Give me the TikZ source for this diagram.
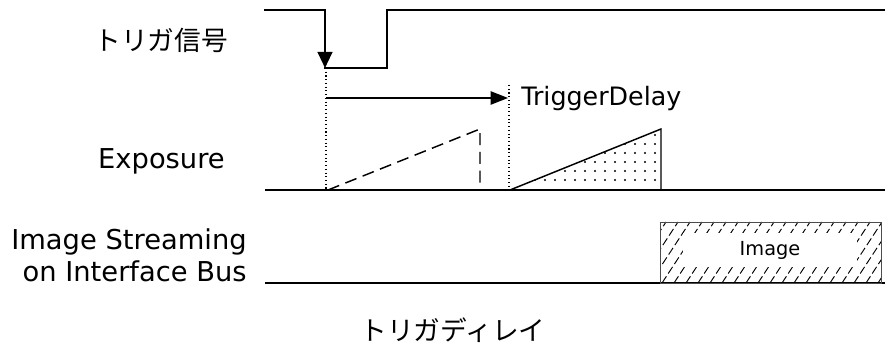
\documentclass[tikz,border=0pt]{standalone}
\usepackage{fontspec}
\setmainfont{DejaVu Sans}
\newfontfamily\jpfont{Noto Sans CJK JP}
\usetikzlibrary{arrows.meta}

\begin{document}
\begin{tikzpicture}[x=0.75pt, y=-0.75pt,
  lbl/.style={font=\fontsize{20.5}{24}\selectfont, inner sep=0pt},
  jlbl/.style={font=\jpfont\fontsize{20}{24}\selectfont, inner sep=0pt},
  sig/.style={line width=1.6pt, line cap=rect},
  base/.style={line width=2.2pt},
  guide/.style={dotted, line width=0.8pt},
  ramp/.style={line width=1.1pt},
  flow/.style={-{Triangle[length=13pt,width=10pt]}, line width=1pt},
]
\useasboundingbox (0,0) rectangle (885,352);

% Signal labels
\node[jlbl, anchor=east] (trig) at (228,40) {トリガ信号};
\node[lbl, anchor=base east] (expo) at (225,169) {Exposure};
\node[lbl, anchor=east, align=right] (bus) at (247,255)
  {Image Streaming\\on Interface Bus};

% Trigger signal
\coordinate (t0) at (265,10);
\coordinate (t1) at (325,68);
\coordinate (t2) at (387,10);
\coordinate (t3) at (885,10);
\draw[sig, -{Triangle[length=12pt,width=11pt]}] (t0) -| (t1);
\draw[sig] (t1) -| (t2) -- (t3);

% Exposure and bus lines
\coordinate (e0) at (265,190);
\coordinate (e1) at (885,190);
\coordinate (b0) at (265,283);
\coordinate (b1) at (885,283);
\draw[base] (e0) -- (e1);
\draw[base] (b0) -- (b1);

% Trigger delay
\coordinate (d0) at (326,68);
\coordinate (d1) at (326,190);
\coordinate (d2) at (509,85);
\coordinate (d3) at (509,190);
\coordinate (a0) at (326,98);
\coordinate (a1) at (508,98);
\draw[guide] (d0) -- (d1);
\draw[guide] (d2) -- (d3);
\draw[flow] (a0) -- (a1);
\node[lbl, font=\fontsize{19}{22}\selectfont, anchor=base west] (delay) at (521,106) {TriggerDelay};

% Exposure ramps
\coordinate (r0) at (328,190);
\coordinate (r1) at (480,129);
\coordinate (r2) at (480,190);
\draw[ramp, dash pattern=on 9pt off 5pt] (r0) -- (r1) -- (r2);

\coordinate (s0) at (510,190);
\coordinate (s1) at (661,129);
\coordinate (s2) at (661,190);
\begin{scope}
  \clip (s0) -- (s1) -- (s2) -- cycle;
  \foreach \x in {515,525,...,660}
    \foreach \y in {135,144,...,188}
      \fill (\x,\y) circle (1.1);
\end{scope}
\draw[ramp] (s0) -- (s1) -- (s2);

% Image block
\coordinate (i0) at (660,222);
\coordinate (i1) at (881,283);
\begin{scope}
  \clip (i0) rectangle (i1);
  \foreach \x in {590,602,...,900}
    \draw[line width=0.7pt, dash pattern=on 6pt off 2.5pt] (\x,283) -- (\x+40,222);
\end{scope}
\draw[line width=0.6pt, draw=black!70] (i0) rectangle (i1);
\node[fill=white, minimum width=130pt, minimum height=25pt, inner sep=0pt,
  font=\fontsize{14.5}{17}\selectfont] (img) at (770,250) {Image};

% Caption
\node[jlbl] (cap) at (453,330) {トリガディレイ};

\end{tikzpicture}
\end{document}
